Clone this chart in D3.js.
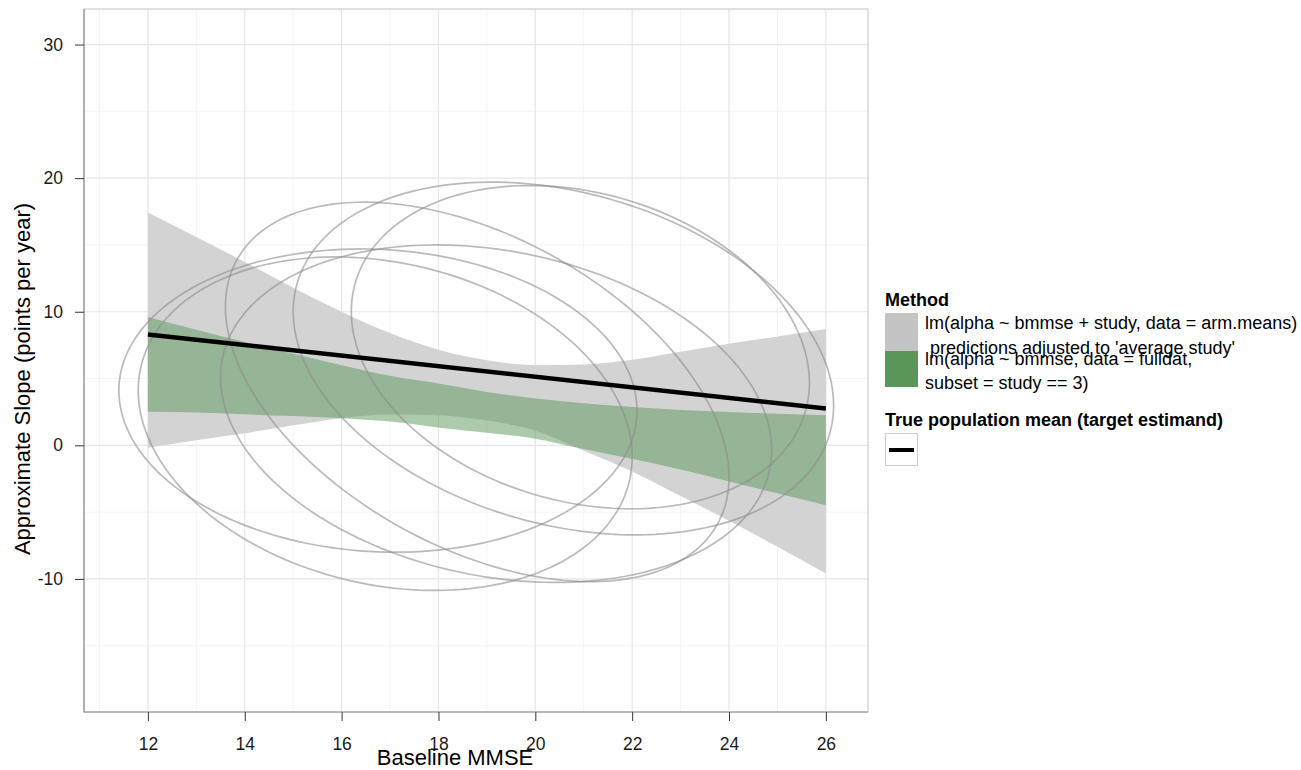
<!DOCTYPE html>
<html>
<head>
<meta charset="utf-8">
<script src="https://cdn.jsdelivr.net/npm/d3@7"></script>
<style>
  body { margin: 0; background: #fff; }
  text { font-family: "Liberation Sans", Arial, sans-serif; }
</style>
</head>
<body>
<script>
// values
var mmse = [12, 13, 14, 15, 16, 17, 18, 19, 20, 21, 22, 23, 24, 25, 26];

// lm(alpha ~ bmmse + study) adjusted band
var studyUpper = [17.43, 15.6, 13.73, 11.8, 10.0, 8.4, 7.15, 6.37, 6.0, 6.05, 6.4, 7.0, 7.6, 8.15, 8.7];
var studyLower = [-0.18, 0.38, 0.9, 1.5, 2.03, 2.3, 2.25, 1.85, 1.1, -0.4, -1.95, -3.8, -5.65, -7.6, -9.6];

// lm(alpha ~ bmmse, subset = study == 3) band
var subsetUpper = [9.61, 8.65, 7.74, 6.85, 6.0, 5.2, 4.62, 4.0, 3.5, 3.15, 2.87, 2.65, 2.5, 2.37, 2.25];
var subsetLower = [2.51, 2.45, 2.32, 2.19, 2.02, 1.78, 1.34, 0.94, 0.5, -0.27, -1.01, -1.81, -2.7, -3.59, -4.49];

// true population mean line
var trueX = [12, 26];
var trueY = [8.3, 2.75];

// study ellipses: [centre x, centre y, half width, half height, correlation]
var ellipses = [
  [16.75, 3.35, 5.35, 11.35, -0.066],
  [16.9, 1.62, 5.1, 12.48, -0.2],
  [18.8, 4.0, 5.2, 14.2, -0.45],
  [19.19, 2.37, 5.69, 12.63, -0.216],
  [20.58, 6.5, 5.58, 13.2, -0.266],
  [20.93, 7.35, 4.73, 12.1, -0.22]
];

var xTicks = [12, 14, 16, 18, 20, 22, 24, 26];
var xMinor = [11, 13, 15, 17, 19, 21, 23, 25];
var yTicks = [-10, 0, 10, 20, 30];
var yMinor = [-15, -5, 5, 15, 25];

var legendLabels = ["lm(alpha ~ bmmse + study, data = arm.means)",
                    " predictions adjusted to 'average study'",
                    "lm(alpha ~ bmmse, data = fulldat,",
                    "subset = study == 3)"];

var width = 1301, height = 770;
var pLeft = 84, pRight = 868, pTop = 9, pBottom = 712;

var svg = d3.select('body').append('svg')
    .attr('width', width)
    .attr('height', height);

var x = d3.scaleLinear().domain([10.68, 26.87]).range([pLeft, pRight]);
var y = d3.scaleLinear().domain([-19.96, 32.66]).range([pBottom, pTop]);

// grid
var grid = svg.append('g');
grid.selectAll('.vmin').data(xMinor).enter().append('line')
    .attr('x1', d => x(d)).attr('x2', d => x(d)).attr('y1', pTop).attr('y2', pBottom)
    .attr('stroke', '#f4f4f4').attr('stroke-width', 1);
grid.selectAll('.hmin').data(yMinor).enter().append('line')
    .attr('x1', pLeft).attr('x2', pRight).attr('y1', d => y(d)).attr('y2', d => y(d))
    .attr('stroke', '#f4f4f4').attr('stroke-width', 1);
grid.selectAll('.vmaj').data(xTicks).enter().append('line')
    .attr('x1', d => x(d)).attr('x2', d => x(d)).attr('y1', pTop).attr('y2', pBottom)
    .attr('stroke', '#e6e6e6').attr('stroke-width', 1.2);
grid.selectAll('.hmaj').data(yTicks).enter().append('line')
    .attr('x1', pLeft).attr('x2', pRight).attr('y1', d => y(d)).attr('y2', d => y(d))
    .attr('stroke', '#e6e6e6').attr('stroke-width', 1.2);

// ribbons
var studyBand = mmse.map((m, i) => ({x: m, lo: studyLower[i], hi: studyUpper[i]}));
var subsetBand = mmse.map((m, i) => ({x: m, lo: subsetLower[i], hi: subsetUpper[i]}));

var area = d3.area()
    .x(d => x(d.x))
    .y0(d => y(d.lo))
    .y1(d => y(d.hi))
    .curve(d3.curveMonotoneX);

svg.append('path').datum(studyBand)
    .attr('d', area)
    .attr('fill', '#d3d3d3');

svg.append('path').datum(subsetBand)
    .attr('d', area)
    .attr('fill', '#5a965a')
    .attr('fill-opacity', 0.5);

// ellipses
var line = d3.line().x(d => x(d[0])).y(d => y(d[1])).curve(d3.curveLinearClosed);
var angles = d3.range(0, 2 * Math.PI, Math.PI / 90);

svg.selectAll('.ell').data(ellipses).enter().append('path')
    .attr('d', function(e) {
      var delta = Math.acos(e[4]);
      return line(angles.map(t => [e[0] + e[2] * Math.cos(t), e[1] + e[3] * Math.cos(t + delta)]));
    })
    .attr('fill', 'none')
    .attr('stroke', '#8c8c8c')
    .attr('stroke-opacity', 0.6)
    .attr('stroke-width', 1.7);

// true mean line
svg.append('path').datum(trueX.map((d, i) => [d, trueY[i]]))
    .attr('d', d3.line().x(d => x(d[0])).y(d => y(d[1])))
    .attr('stroke', '#000')
    .attr('stroke-width', 4.5)
    .attr('fill', 'none');

// panel border
svg.append('rect')
    .attr('x', pLeft).attr('y', pTop)
    .attr('width', pRight - pLeft).attr('height', pBottom - pTop)
    .attr('fill', 'none').attr('stroke', '#c4c4c4').attr('stroke-width', 1);
svg.append('path')
    .attr('d', 'M' + pLeft + ',' + pTop + 'V' + pBottom + 'H' + pRight)
    .attr('fill', 'none').attr('stroke', '#8f8f8f').attr('stroke-width', 1.2);

// axes
var xAxis = d3.axisBottom(x).tickValues(xTicks).tickSize(9).tickPadding(17)
    .tickFormat(d => String(d));
var yAxis = d3.axisLeft(y).tickValues(yTicks).tickSize(9).tickPadding(12)
    .tickFormat(d => String(d));

var gx = svg.append('g').attr('transform', 'translate(0,' + pBottom + ')').call(xAxis);
var gy = svg.append('g').attr('transform', 'translate(' + pLeft + ',0)').call(yAxis);
[gx, gy].forEach(function(g) {
  g.select('.domain').remove();
  g.selectAll('line').attr('stroke', '#333').attr('stroke-width', 1);
  g.selectAll('text').attr('font-size', 17.5).attr('fill', '#1a1a1a')
    .style('font-family', '"Liberation Sans", Arial, sans-serif');
});

svg.append('text')
    .attr('x', 455).attr('y', 765)
    .attr('text-anchor', 'middle')
    .attr('font-size', 22)
    .text('Baseline MMSE');

svg.append('text')
    .attr('transform', 'translate(30,379) rotate(-90)')
    .attr('text-anchor', 'middle')
    .attr('font-size', 22)
    .text('Approximate Slope (points per year)');

// legend
var lg = svg.append('g');
lg.append('text').attr('x', 885).attr('y', 306).attr('font-size', 18)
    .attr('font-weight', 'bold').text('Method');
lg.append('rect').attr('x', 885).attr('y', 313).attr('width', 33).attr('height', 38)
    .attr('fill', '#c4c4c4');
lg.append('rect').attr('x', 885).attr('y', 351).attr('width', 33).attr('height', 36)
    .attr('fill', '#5a965a');

var labelX = [925, 925, 925, 925];
var labelY = [329, 354, 365, 389];
lg.selectAll('.lab').data(legendLabels).enter().append('text')
    .attr('x', (d, i) => labelX[i]).attr('y', (d, i) => labelY[i])
    .attr('font-size', 18)
    .attr('xml:space', 'preserve')
    .style('white-space', 'pre')
    .text(d => d);

lg.append('text').attr('x', 885).attr('y', 426).attr('font-size', 18)
    .attr('font-weight', 'bold').text('True population mean (target estimand)');
lg.append('rect').attr('x', 885.5).attr('y', 433.5).attr('width', 32).attr('height', 32)
    .attr('fill', '#fff').attr('stroke', '#cccccc').attr('stroke-width', 1);
lg.append('line').attr('x1', 889).attr('x2', 914).attr('y1', 450).attr('y2', 450)
    .attr('stroke', '#000').attr('stroke-width', 4);
</script>
</body>
</html>
